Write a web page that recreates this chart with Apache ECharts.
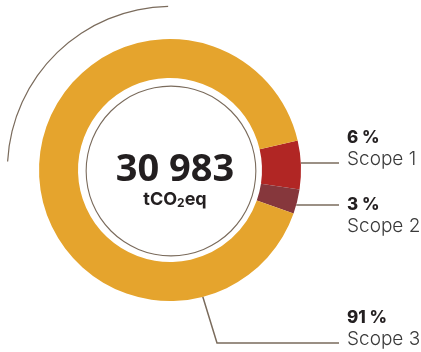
<!DOCTYPE html>
<html>
<head>
<meta charset="utf-8">
<script src="https://cdn.jsdelivr.net/npm/echarts@6/dist/echarts.min.js"></script>
<style>
html,body{margin:0;padding:0;background:#fff;}
#c{width:421px;height:352px;}
</style>
</head>
<body>
<div id="c"></div>
<script>
// ---- data ----
const categories = ['Scope 1', 'Scope 2', 'Scope 3'];
const shares = [6, 3, 91];            // percent
const totalLabel = '30 983';
const unitParts = ['tCO', '2', 'eq'];

// ---- layout constants ----
const CX = 170, CY = 170;
const R_IN = 92, R_OUT = 131;
const colors = ['#B12624', '#86373C', '#E5A42D'];
const lineColor = '#7a6b5c';
const labelX = 347;
const labelTop = [127, 194, 307];
const lineY = [163, 205, 343];
const anchorAngle = [3.1, -15.5, -75.5];   // degrees where label lines leave the ring
const lineEndX = 339;
const elbowX = [null, null, 217];

const chart = echarts.init(document.getElementById('c'), null, {renderer: 'canvas'});

const pieData = categories.map((c, i) => ({
  name: c,
  value: shares[i],
  itemStyle: {color: colors[i]}
}));

function anchorPoint(i) {
  const a = anchorAngle[i] * Math.PI / 180;
  return [CX + R_OUT * Math.cos(a), CY - R_OUT * Math.sin(a)];
}

const option = {
  animation: false,
  series: [
    {
      type: 'pie',
      silent: true,
      center: [CX + 1, CY],
      radius: [163, 164.2],
      startAngle: 177,
      clockwise: true,
      label: {show: false},
      labelLine: {show: false},
      data: [
        {value: 86, itemStyle: {color: lineColor}},
        {value: 274, itemStyle: {color: 'rgba(0,0,0,0)'}}
      ]
    },
    {
      type: 'pie',
      silent: true,
      center: [CX + 1, CY + 1],
      radius: [84.3, 85.4],
      label: {show: false},
      labelLine: {show: false},
      data: [{value: 1, itemStyle: {color: lineColor}}]
    },
    {
      type: 'pie',
      center: [CX, CY],
      radius: [R_IN, R_OUT],
      startAngle: 13,
      clockwise: true,
      avoidLabelOverlap: false,
      emphasis: {disabled: true},
      itemStyle: {borderWidth: 0},
      data: pieData,
      label: {
        show: true,
        position: 'outside',
        formatter: p => '{p|' + p.value + ' %}\n{s|' + p.name + '}',
        rich: {
          p: {fontFamily: 'Inter', fontSize: 17, fontWeight: 800, color: '#231f20', lineHeight: 21},
          s: {fontFamily: 'Inter', fontSize: 19, fontWeight: 300, color: '#3a3a3a', lineHeight: 22}
        }
      },
      labelLine: {
        show: true,
        lineStyle: {color: lineColor, width: 1.5}
      },
      labelLayout: function (params) {
        const i = params.dataIndex;
        const a = anchorPoint(i);
        const pts = elbowX[i] == null
          ? [[a[0], lineY[i]], [(a[0] + lineEndX) / 2, lineY[i]], [lineEndX, lineY[i]]]
          : [a, [elbowX[i], lineY[i]], [lineEndX, lineY[i]]];
        return {
          x: labelX,
          y: labelTop[i],
          align: 'left',
          verticalAlign: 'top',
          labelLinePoints: pts
        };
      }
    }
  ],
  graphic: [
    {
      type: 'text',
      x: CX + 5,
      y: CY,
      silent: true,
      style: {
        text: totalLabel,
        fontFamily: 'Open Sans',
        fontSize: 38,
        fontWeight: 700,
        fill: '#231f20',
        align: 'center',
        verticalAlign: 'middle'
      }
    },
    {
      type: 'text',
      x: CX + 5,
      y: CY + 29,
      silent: true,
      style: {
        text: '{u|' + unitParts[0] + '}{s|' + unitParts[1] + '}{u|' + unitParts[2] + '}',
        align: 'center',
        verticalAlign: 'middle',
        rich: {
          u: {fontFamily: 'Inter', fontSize: 18, fontWeight: 700, fill: '#231f20', lineHeight: 20, verticalAlign: 'bottom'},
          s: {fontFamily: 'Inter', fontSize: 12, fontWeight: 700, fill: '#231f20', lineHeight: 18, verticalAlign: 'bottom'}
        }
      }
    }
  ]
};

chart.setOption(option);
</script>
</body>
</html>
